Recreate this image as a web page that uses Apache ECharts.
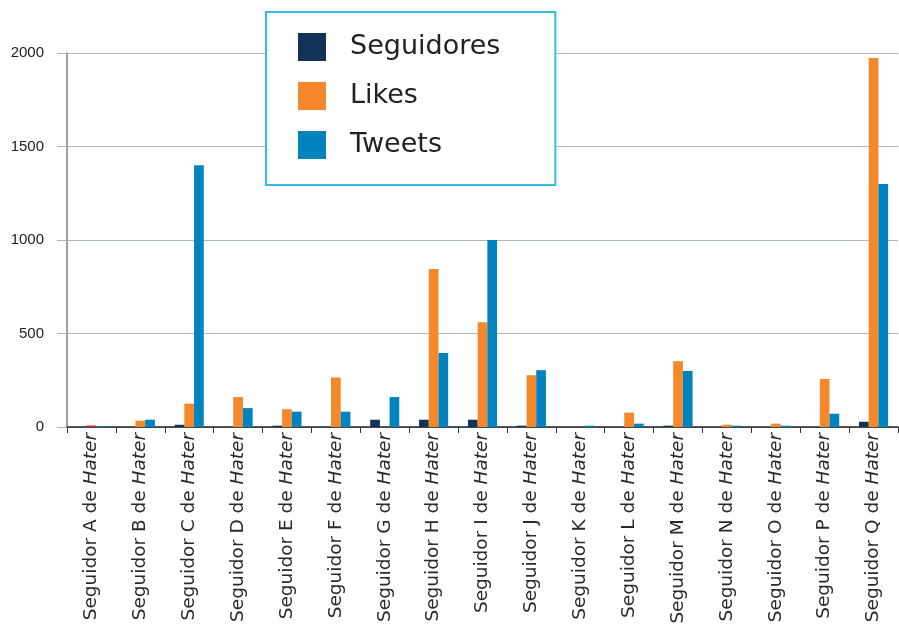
<!DOCTYPE html>
<html>
<head>
<meta charset="utf-8">
<script src="https://cdn.jsdelivr.net/npm/echarts@6/dist/echarts.min.js"></script>
<style>html,body{margin:0;padding:0;background:#fff;}#c{width:899px;height:624px;}</style>
</head>
<body>
<div id="c"></div>
<script>
var categories = ['A','B','C','D','E','F','G','H','I','J','K','L','M','N','O','P','Q'];
var seriesNames = ['Seguidores','Likes','Tweets'];
var seguidores = [0, 0, 12, 0, 7, 0, 39, 39, 39, 7, 0, 0, 7, 0, 0, 0, 28];
var likes      = [8, 34, 125, 160, 95, 265, 0, 845, 560, 277, 0, 77, 352, 12, 18, 257, 1973];
var tweets     = [5, 39, 1400, 101, 82, 82, 160, 396, 1000, 304, 7, 18, 300, 7, 7, 71, 1300];
var yTicks = [0, 500, 1000, 1500, 2000];
var colors = ['#12325a', '#f5882a', '#0083be'];
var highlightColor = '#cf2a30';

var chart = echarts.init(document.getElementById('c'), null, {renderer: 'canvas'});
var likesData = likes.map(function (v, i) {
  return i === 0 ? {value: v, itemStyle: {color: highlightColor}} : v;
});
var option = {
  animation: false,
  backgroundColor: '#ffffff',
  legend: {
    orient: 'vertical',
    left: 266, top: 12,
    padding: [21, 55, 26, 32],
    borderColor: '#2ec1e3', borderWidth: 2,
    backgroundColor: '#fff',
    itemWidth: 28, itemHeight: 28, itemGap: 21,
    icon: 'rect',
    textStyle: {fontFamily: 'DejaVu Sans', fontSize: 27, color: '#222', padding: [0, 0, 0, 19]},
    data: seriesNames
  },
  grid: {left: 67, right: 1, top: 53, bottom: 197, containLabel: false, outerBoundsMode: 'none'},
  xAxis: {
    type: 'category',
    data: categories,
    axisLine: {lineStyle: {color: '#222', width: 1.5}},
    axisTick: {show: true, length: 6, lineStyle: {color: '#333'}},
    axisLabel: {
      interval: 0, rotate: 90, margin: 6,
      formatter: function (v) { return '{a|Seguidor ' + v + ' de }{b|Hater}'; },
      rich: {
        a: {fontFamily: 'DejaVu Sans', fontSize: 18.5, color: '#2a2a2a'},
        b: {fontFamily: 'DejaVu Sans', fontSize: 18.5, fontStyle: 'italic', color: '#2a2a2a'}
      }
    }
  },
  yAxis: {
    type: 'value', min: 0, max: 2000, interval: 500,
    axisLine: {show: true, lineStyle: {color: '#808080', width: 1.5}},
    axisTick: {show: true, length: 10, lineStyle: {color: '#a9b9c2'}},
    splitLine: {lineStyle: {color: '#a9b9c2', width: 1.2}},
    axisLabel: {
      margin: 23, fontFamily: 'Liberation Sans', fontSize: 15, color: '#222',
      formatter: function (v) { return yTicks.indexOf(v) >= 0 ? String(v) : ''; }
    }
  },
  series: [
    {name: seriesNames[0], type: 'bar', data: seguidores, barWidth: 9.7, barGap: '0%', itemStyle: {color: colors[0]}},
    {name: seriesNames[1], type: 'bar', data: likesData, barWidth: 9.7, barGap: '0%', itemStyle: {color: colors[1]}},
    {name: seriesNames[2], type: 'bar', data: tweets, barWidth: 9.7, barGap: '0%', itemStyle: {color: colors[2]}}
  ]
};
chart.setOption(option);
</script>
</body>
</html>
